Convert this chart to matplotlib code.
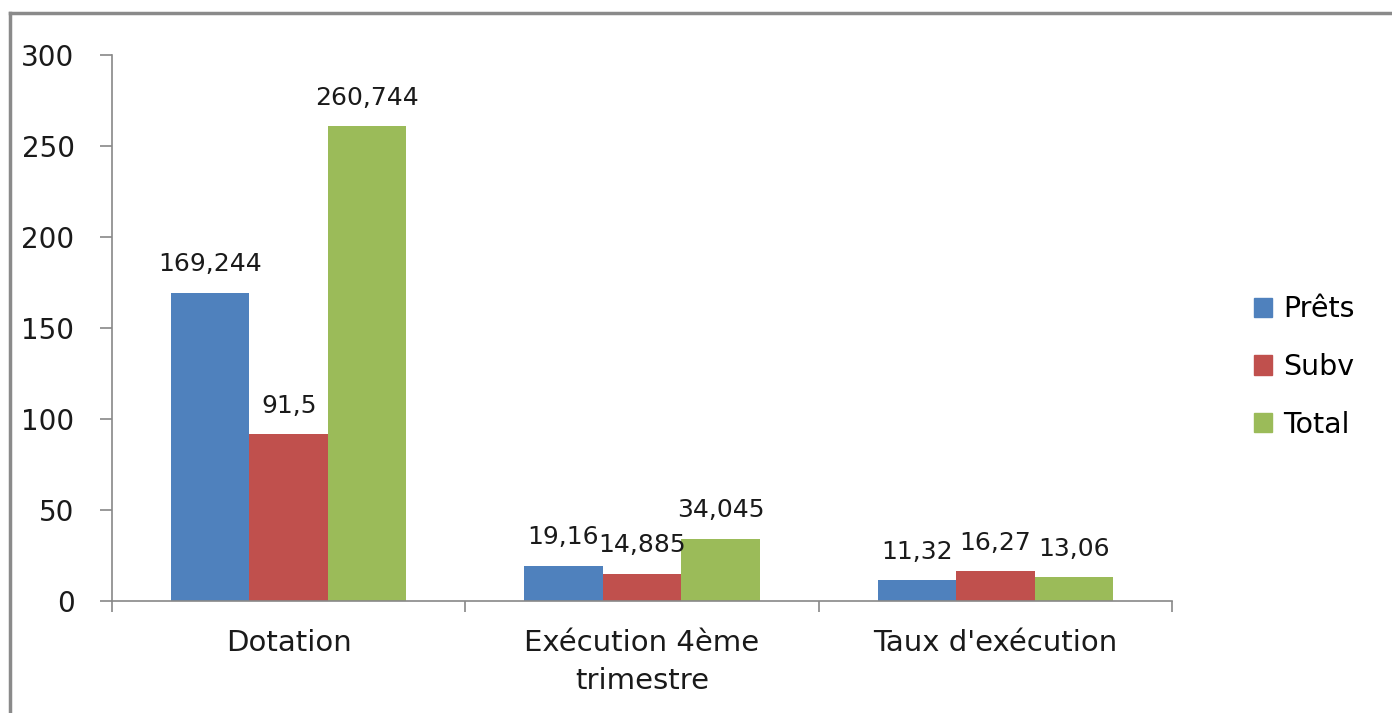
import matplotlib
matplotlib.use("Agg")
import matplotlib.pyplot as plt
from matplotlib.lines import Line2D
from matplotlib.patches import Patch
import numpy as np

categories = ["Dotation", "Exécution 4ème\ntrimestre", "Taux d'exécution"]
series_names = ["Prêts", "Subv", "Total"]
prets = [169.244, 19.16, 11.32]
subv = [91.5, 14.885, 16.27]
total = [260.744, 34.045, 13.06]
prets_labels = ["169,244", "19,16", "11,32"]
subv_labels = ["91,5", "14,885", "16,27"]
total_labels = ["260,744", "34,045", "13,06"]
yticks = [0, 50, 100, 150, 200, 250, 300]

colors = ["#4F81BD", "#C0504D", "#9BBB59"]
plt.rcParams['font.family'] = ['DejaVu Sans']
tc = "#1a1a1a"

fig = plt.figure(figsize=(13.92, 7.13), dpi=100)
ax = fig.add_axes([112/1392, 1-601/713, (1172-112)/1392, (601-55)/713])

x = np.arange(len(categories))
w = 0.222
series = [prets, subv, total]
labels = [prets_labels, subv_labels, total_labels]
for i, (vals, labs) in enumerate(zip(series, labels)):
    bars = ax.bar(x + (i-1)*w, vals, width=w, color=colors[i], label=series_names[i], zorder=2)
    for b, lab in zip(bars, labs):
        ax.annotate(lab, (b.get_x()+b.get_width()/2, b.get_height()),
                    xytext=(0, 12), textcoords="offset points", ha="center", va="bottom",
                    fontsize=18, color=tc)

ax.set_xlim(-0.5, 2.5)
ax.set_ylim(0, 300)
ax.set_yticks(yticks)
ax.set_yticklabels([str(v) for v in yticks], fontsize=20, color=tc)
ax.set_xticks([-0.5, 0.5, 1.5, 2.5])
ax.set_xticklabels([])
ax.set_xticks(x, minor=True)
ax.set_xticklabels(categories, minor=True, fontsize=21, color=tc, va="top", linespacing=1.45)
ax.tick_params(axis="x", which="minor", length=0, pad=20)
ax.tick_params(axis="x", which="major", length=8, width=1.2, color="#888888", direction="out")
ax.tick_params(axis="y", length=9, width=1.2, color="#888888", direction="out", pad=18)
for s in ["top", "right"]:
    ax.spines[s].set_visible(False)
for s in ["left", "bottom"]:
    ax.spines[s].set_color("#888888")
    ax.spines[s].set_linewidth(1.2)

handles = [Patch(color=c) for c in colors]
fig.legend(handles, series_names, loc="center left", bbox_to_anchor=(1228/1392, 1-367/713),
           frameon=False, fontsize=20.5, handlelength=0.65, handleheight=0.65, handletextpad=0.4,
           labelspacing=1.05)

# outer border (top and left)
fig.add_artist(Line2D([10/1392, 10/1392], [0, 1-13/713], transform=fig.transFigure, color="#8a8a8a", lw=2.5))
fig.add_artist(Line2D([10/1392, 1], [1-13/713, 1-13/713], transform=fig.transFigure, color="#8a8a8a", lw=2.5))

fig.savefig("out.png", dpi=100)
